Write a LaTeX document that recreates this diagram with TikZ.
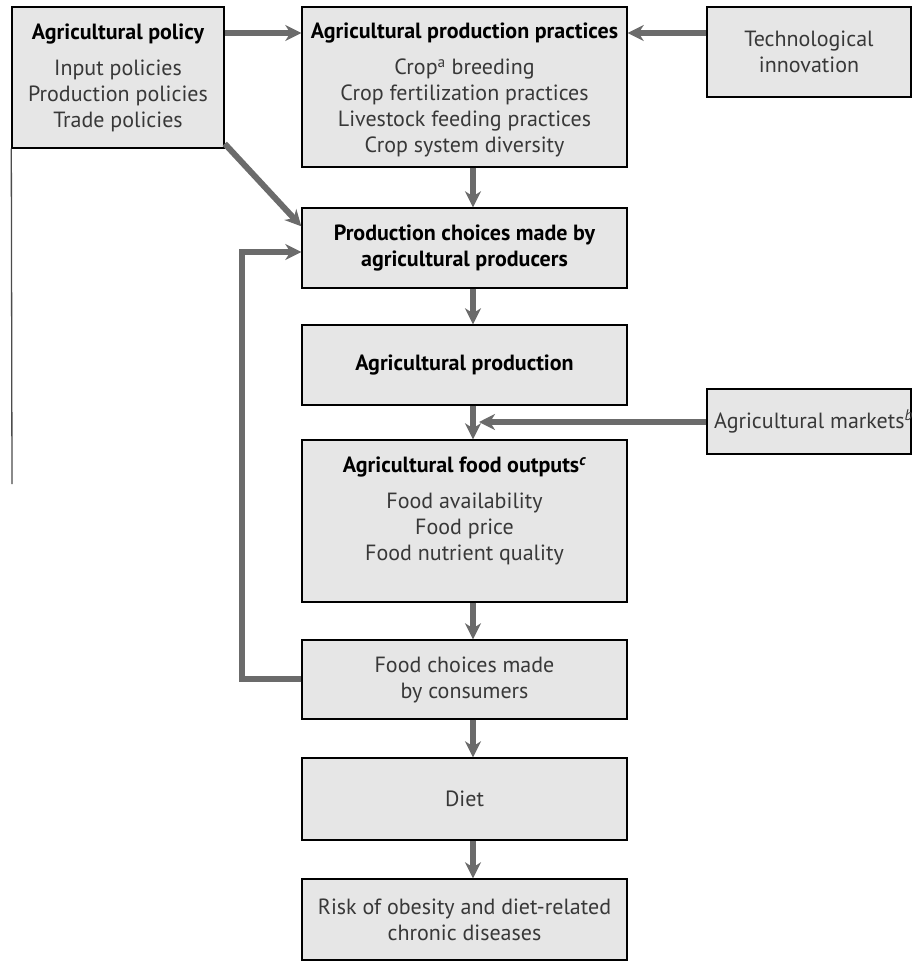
\documentclass[tikz,border=0pt]{standalone}
\usepackage{fontspec}
\setmainfont{PT Sans}
\usetikzlibrary{arrows.meta}
\definecolor{boxfill}{HTML}{E6E6E6}
\definecolor{arrowgray}{HTML}{6B6B6B}
\definecolor{txtgray}{HTML}{383838}
\begin{document}
\begin{tikzpicture}[x=1pt,y=-1pt,
  box/.style={draw=black,line width=1.4pt,fill=boxfill,inner sep=0pt,align=center,
    font=\fontsize{22}{26}\selectfont,text=txtgray},
  mainbox/.style={box,minimum width=325pt},
  txt/.style={align=center,inner sep=0pt,font=\fontsize{22}{26}\selectfont,text=txtgray},
  arr/.style={draw=arrowgray,line width=6pt,-{Stealth[length=16pt,width=16pt,inset=5pt]}},
  fb/.style={draw=arrowgray,line width=6.5pt}
]
\useasboundingbox[fill=white] (0,0) rectangle (912,962);

% left column
\node[box,minimum width=212pt,minimum height=141pt] (pol) at (118,77.5) {};
\node[txt] (polT) at (118,78) {{\bfseries\color{black}Agricultural policy}\\[10pt]Input policies\\Production policies\\Trade policies};

% main column
\node[mainbox,minimum height=160pt] (prac) at (464.5,87) {};
\node[txt] (pracT) at (464.5,90) {{\bfseries\color{black}Agricultural production practices}\\[10pt]Crop\textsuperscript{a} breeding\\Crop fertilization practices\\Livestock feeding practices\\Crop system diversity};

\node[mainbox,minimum height=80pt,text=black,font=\fontsize{22}{26}\selectfont\bfseries] (ch) at (464.5,248) {Production choices made by\\agricultural producers};
\node[mainbox,minimum height=80pt,text=black,font=\fontsize{22}{26}\selectfont\bfseries] (prod) at (464.5,365) {Agricultural production};

\node[mainbox,minimum height=162pt] (out) at (464.5,521) {};
\node[txt] (outT) at (464.5,511) {{\bfseries\color{black}Agricultural food outputs\textsuperscript{\itshape c}}\\[10pt]Food availability\\Food price\\Food nutrient quality};

\node[mainbox,minimum height=79pt] (fc) at (464.5,679.5) {Food choices made\\by consumers};
\node[mainbox,minimum height=82pt] (diet) at (464.5,799) {Diet};
\node[mainbox,minimum height=81pt] (risk) at (464.5,919.5) {Risk of obesity and diet-related\\chronic diseases};

% right column
\node[box,minimum width=204pt,minimum height=90pt] (tech) at (809,52) {Technological\\innovation};
\node[box,minimum width=204pt,minimum height=65pt] (mkt) at (809,421.5) {};
\node[txt,anchor=west] (mktT) at (714,421.5) {Agricultural markets\textsuperscript{\itshape b}};

% thin line
\coordinate (thinEnd) at (12,484);
\draw[line width=1.3pt,draw=black!70] (pol.south west) -- (thinEnd);

% arrows
\draw[arr] (pol.east |- 0,33) -- (prac.west |- 0,33);
\draw[arr] (tech.west |- 0,33) -- (prac.east |- 0,33);
\draw[arr] ([yshift=5pt]pol.south east) -- ([yshift=-19pt]ch.north west);
\draw[arr] ([xshift=8.5pt]prac.south) -- ([xshift=8.5pt]ch.north);
\draw[arr] ([xshift=8.5pt]ch.south) -- ([xshift=8.5pt]prod.north);
\draw[arr] ([xshift=8.5pt]prod.south) -- ([xshift=8.5pt]out.north);
\coordinate (mktTip) at (479,422);
\draw[arr] (mkt.west |- mktTip) -- (mktTip);
\draw[arr] ([xshift=8.5pt]out.south) -- ([xshift=8.5pt]fc.north);
\draw[arr] ([xshift=8.5pt]fc.south) -- ([xshift=8.5pt]diet.north);
\draw[arr] ([xshift=8.5pt]diet.south) -- ([xshift=8.5pt]risk.north);

% feedback
\coordinate (fbA) at (242,679);
\coordinate (fbB) at (242,252);
\draw[fb] (fc.west |- fbA) -- (fbA) -- (fbB) -- ++(20,0);
\draw[arr] ([xshift=-3pt]fbB) -- (ch.west |- fbB);
\end{tikzpicture}
\end{document}
